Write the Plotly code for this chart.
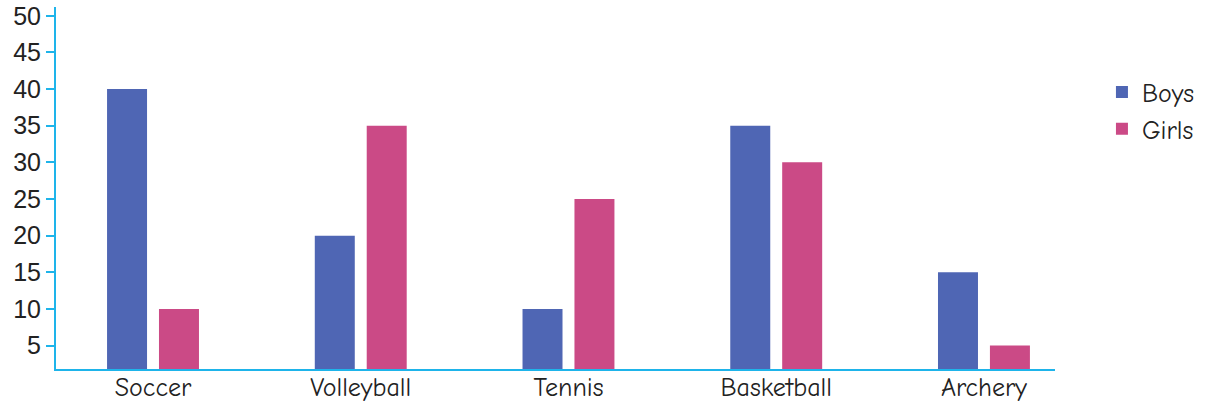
import plotly.graph_objects as go

# data
sports = ["Soccer", "Volleyball", "Tennis", "Basketball", "Archery"]
boys = [40, 20, 10, 35, 15]
girls = [10, 35, 25, 30, 5]
y_ticks = [5, 10, 15, 20, 25, 30, 35, 40, 45, 50]

axis_col = "#1eb4ea"
label_font = "Comic Sans MS, Comic Neue, Lato, Noto Sans, sans-serif"

fig = go.Figure()

fig.add_trace(go.Bar(x=sports, y=boys, name="Boys",
                     marker=dict(color="#4f66b4", line=dict(width=0))))
fig.add_trace(go.Bar(x=sports, y=girls, name="Girls",
                     marker=dict(color="#cb4a86", line=dict(width=0))))

fig.update_layout(
    width=1210, height=406,
    margin=dict(l=56, r=155, t=7, b=37),
    paper_bgcolor="white", plot_bgcolor="white",
    barmode="group", bargap=0.5, bargroupgap=0.23,
    showlegend=True,
    legend=dict(x=1.047, y=0.83, xanchor="left", yanchor="top",
                font=dict(family=label_font, size=26, color="#222"),
                itemwidth=30, tracegroupgap=6),
    xaxis=dict(range=[-0.467, 4.342], showline=True, linecolor=axis_col,
               linewidth=2, ticks="", showgrid=False, zeroline=False,
               automargin=False, ticklabelstandoff=-6,
               tickfont=dict(family=label_font, size=26, color="#222")),
    yaxis=dict(range=[1.8, 51.2], tickvals=y_ticks, showline=True,
               linecolor=axis_col, linewidth=2, ticks="outside",
               tickcolor=axis_col, ticklen=8, tickwidth=2,
               showgrid=False, zeroline=False, automargin=False,
               ticklabeloverflow="allow",
               tickfont=dict(family="Liberation Sans, Arial, sans-serif",
                             size=25, color="#222")),
)

# drop the default 8px page margin so the figure fills the window
fig.write_html("out.html", config={"displayModeBar": False},
               post_script="document.body.style.margin='0';")
